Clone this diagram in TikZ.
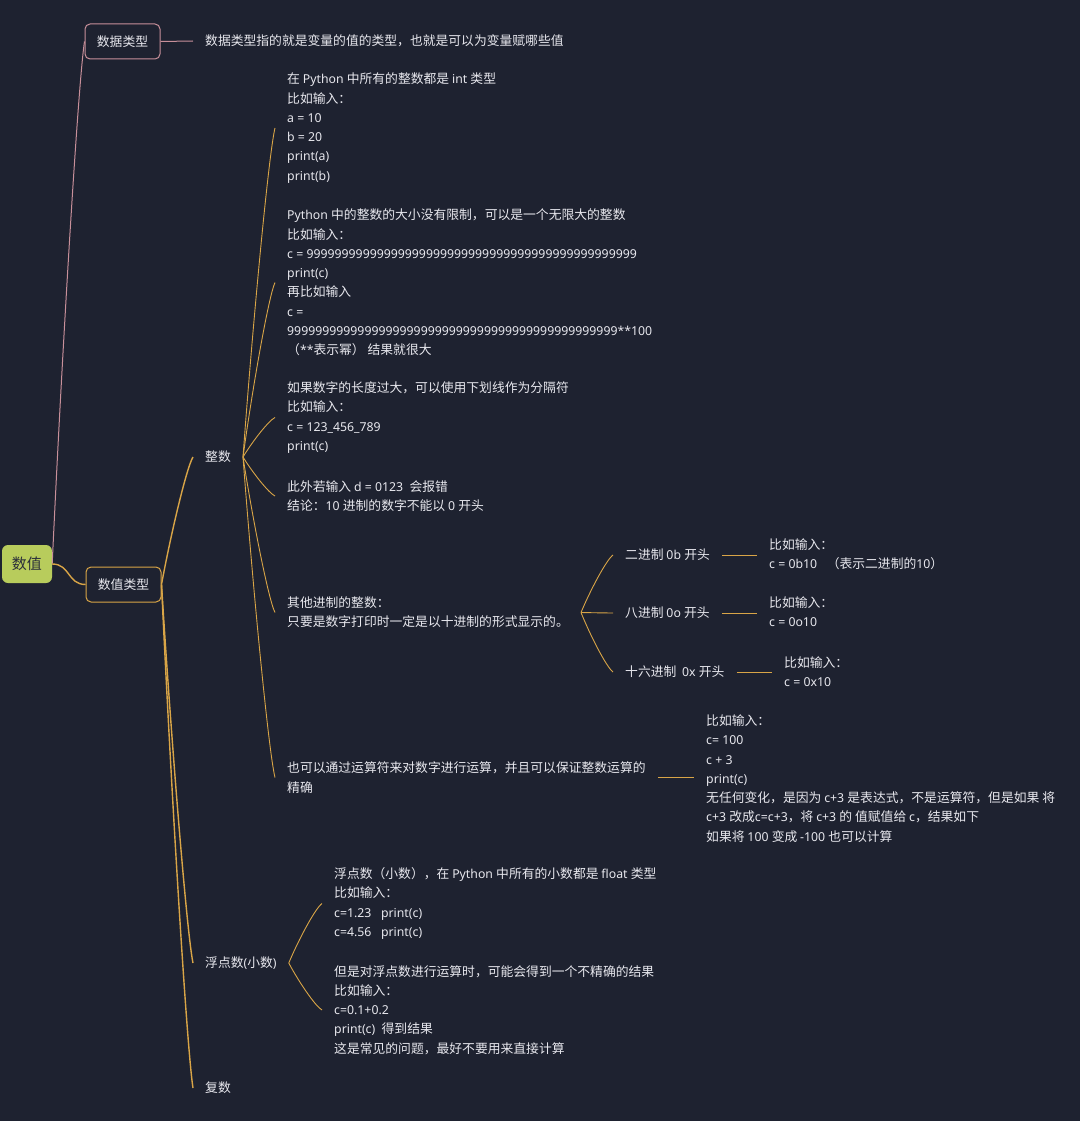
\documentclass[tikz,border=0pt]{standalone}
\usepackage{fontspec}
\setmainfont{Noto Sans}[Scale=0.96]
\newfontfamily\cjkfont{Noto Sans CJK SC}
\usetikzlibrary{calc}
\XeTeXinterchartokenstate=1
\newXeTeXintercharclass\cjkcls
\makeatletter
\def\setcjkrange#1#2{\count@=#1\relax\loop\XeTeXcharclass\count@=\cjkcls\relax\advance\count@\@ne\ifnum\count@<#2\relax\repeat}
\setcjkrange{"3000}{"3040}
\setcjkrange{"4E00}{"A000}
\setcjkrange{"FF00}{"FFF0}
\makeatother
\XeTeXinterchartoks 0 \cjkcls = {\cjkfont}
\XeTeXinterchartoks 4095 \cjkcls = {\cjkfont}
\XeTeXinterchartoks \cjkcls 0 = {\rmfamily}
\XeTeXinterchartoks 4095 0 = {\rmfamily}
\definecolor{bg}{HTML}{1E2230}
\definecolor{fg}{HTML}{E8E8EE}
\definecolor{gold}{HTML}{D9A547}
\definecolor{pinkl}{HTML}{C8909A}
\definecolor{rootg}{HTML}{B8CC5C}
\definecolor{rootfg}{HTML}{2A2E3A}
\newcommand\mainsize{\fontsize{12.8}{19.25}\selectfont}
\begin{document}
\begin{tikzpicture}[x=1pt,y=-1pt,
  txt/.style={inner xsep=12pt,inner ysep=0pt,anchor=west,align=left,text=fg,font=\mainsize},
  topic/.style={draw,rounded corners=5pt,line width=1pt,minimum width=75pt,minimum height=35pt,inner sep=0pt,fill=bg,text=fg,font=\mainsize},
  rootbox/.style={fill=rootg,rounded corners=6pt,minimum width=50pt,minimum height=38pt,inner sep=0pt,text=rootfg,font=\fontsize{15}{18}\selectfont},
  curvy/.style={to path={let \p1=(\tikztostart),\p2=(\tikztotarget) in .. controls ({\x1+0.3*((\x2)-(\x1))},{\y1+0.4*((\y2)-(\y1))}) and ({\x2-0.2*((\x2)-(\x1))},{\y2-0.08*((\y2)-(\y1))}) .. (\tikztotarget)}},
  pinkln/.style={draw=pinkl,line width=1pt},
  lone/.style={draw=gold,line width=1.4pt,curvy},
  ltwo/.style={draw=gold,line width=0.9pt,curvy},
]
\fill[bg] (0,0) rectangle (1080,1121);
\useasboundingbox (0,0) rectangle (1080,1121);

% main topics
\node[rootbox] (root) at (27,564) {数值};
\node[topic,draw=pinkl] (sjlx) at (122.5,41.5) {数据类型};
\node[txt] (sjlxd) at (193,41) {数据类型指的就是变量的值的类型，也就是可以为变量赋哪些值};
\node[topic,draw=gold] (szlx) at (123.5,584.5) {数值类型};

% second level
\node[txt] (zs) at (193,457) {整数};
\node[txt] (fds) at (193,963) {浮点数(小数)};
\node[txt] (fs) at (193,1088) {复数};

% integer blocks
\node[txt] (A) at (275,128) {在 Python 中所有的整数都是 int 类型\\比如输入：\\a = 10\\b = 20\\print(a)\\print(b)};
\node[txt] (B) at (275,282.5) {Python 中的整数的大小没有限制，可以是一个无限大的整数\\比如输入：\\c = 99999999999999999999999999999999999999999999999\\print(c)\\再比如输入\\c =\\99999999999999999999999999999999999999999999999**100\\（**表示幂） 结果就很大};
\node[txt] (C) at (275,417.5) {如果数字的长度过大，可以使用下划线作为分隔符\\比如输入：\\c = 123\_456\_789\\print(c)};
\node[txt] (D) at (275,496) {此外若输入 d = 0123\ \ 会报错\\结论：10 进制的数字不能以 0 开头};
\node[txt] (E) at (275,612.5) {其他进制的整数：\\只要是数字打印时一定是以十进制的形式显示的。};
\node[txt] (F) at (275,777.5) {也可以通过运算符来对数字进行运算，并且可以保证整数运算的\\精确};

% bases
\node[txt] (bin) at (613,555) {二进制 0b 开头};
\node[txt] (oct) at (613,613) {八进制 0o 开头};
\node[txt] (hex) at (613,672) {十六进制\ \ 0x 开头};
\node[txt] (binx) at (757,554) {比如输入：\\c = 0b10\ \ \ （表示二进制的10）};
\node[txt] (octx) at (757,611.5) {比如输入：\\c = 0o10};
\node[txt] (hexx) at (772,671.5) {比如输入：\\c = 0x10};

% operations
\node[txt] (Fx) at (694,778.5) {比如输入：\\c= 100\\c + 3\\print(c)\\无任何变化，是因为 c+3 是表达式，不是运算符，但是如果 将\\c+3 改成c=c+3，将 c+3 的 值赋值给 c，结果如下\\如果将 100 变成 -100 也可以计算};

% float blocks
\node[txt] (G) at (322,903.5) {浮点数（小数），在 Python 中所有的小数都是 float 类型\\比如输入：\\c=1.23\ \ \ print(c)\\c=4.56\ \ \ print(c)};
\node[txt] (H) at (322,1010) {但是对浮点数进行运算时，可能会得到一个不精确的结果\\比如输入：\\c=0.1+0.2\\print(c)\ \ 得到结果\\这是常见的问题，最好不要用来直接计算};

% connectors
\draw[pinkln,curvy] (root.east) to (sjlx.west);
\draw[pinkln] (sjlx.east) -- (sjlxd.west);
\draw[draw=gold,line width=1.4pt] (root.east) .. controls +(18,0) and +(-18,0) .. (szlx.west);
\draw[lone] (szlx.east) to (zs.west);
\draw[lone] (szlx.east) to (fds.west);
\draw[lone] (szlx.east) to (fs.west);
\foreach \t in {A,B,C,D,E,F} \draw[ltwo] (zs.east) to (\t.west);
\foreach \t in {bin,oct,hex} \draw[ltwo] (E.east) to (\t.west);
\draw[ltwo] (bin.east) -- (bin.east -| binx.west);
\draw[ltwo] (oct.east) -- (oct.east -| octx.west);
\draw[ltwo] (hex.east) -- (hex.east -| hexx.west);
\draw[ltwo] (F.east) -- (F.east -| Fx.west);
\draw[ltwo] (fds.east) to (G.west);
\draw[ltwo] (fds.east) to (H.west);
\end{tikzpicture}
\end{document}
